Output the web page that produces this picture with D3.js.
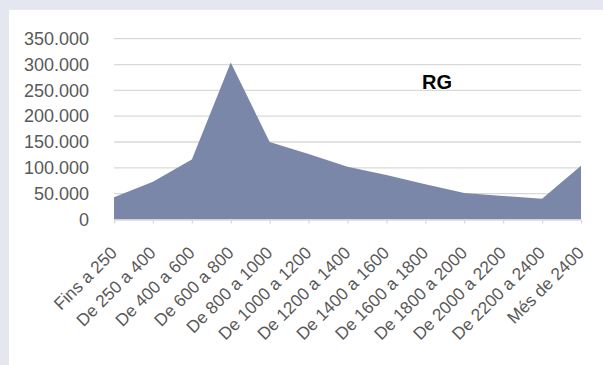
<!DOCTYPE html>
<html><head><meta charset="utf-8">
<script src="https://cdn.jsdelivr.net/npm/d3@7"></script>
<style>html,body{margin:0;padding:0;background:#e4e7ef;}svg{display:block;}</style>
</head><body>
<svg id="c" width="603" height="365"></svg>
<script>
const categories = ["Fins a 250","De 250 a 400","De 400 a 600","De 600 a 800","De 800 a 1000","De 1000 a 1200","De 1200 a 1400","De 1400 a 1600","De 1600 a 1800","De 1800 a 2000","De 2000 a 2200","De 2200 a 2400","Més de 2400"];
const values = [43000, 73000, 116000, 304000, 150000, 127000, 102000, 86000, 68000, 51500, 45500, 40000, 104000];
const yTicks = [0, 50000, 100000, 150000, 200000, 250000, 300000, 350000];
const title = "RG";

const svg = d3.select("#c");
svg.append("rect").attr("x",9).attr("y",10).attr("width",594).attr("height",355).attr("fill","#ffffff");

const x = d3.scalePoint().domain(categories).range([114, 581]).padding(0);
const y = d3.scaleLinear().domain([0, 350000]).range([219.5, 38.7]);
const fmt = v => d3.format(",")(v).replace(/,/g, ".");

// grid
svg.append("g").selectAll("line").data(yTicks.filter(d=>d>0)).join("line")
  .attr("x1",114).attr("x2",581).attr("y1",d=>y(d)).attr("y2",d=>y(d))
  .attr("stroke","#d9d9d9").attr("stroke-width",1.3);

// area
const area = d3.area().x((d,i)=>x(categories[i])).y0(y(0)).y1(d=>y(d));
svg.append("path").datum(values).attr("d",area).attr("fill","#7a87a9");

// y axis labels
svg.append("g").selectAll("text").data(yTicks).join("text")
  .attr("x",89).attr("y",d=>y(d)).attr("dy","0.35em")
  .attr("text-anchor","end").attr("font-family","Liberation Sans, Arial, sans-serif")
  .attr("font-size",18).attr("fill","#595959").text(d=>fmt(d));

// x axis
const xAxis = d3.axisBottom(x).tickSize(4).tickFormat("");
const gx = svg.append("g").attr("transform",`translate(0,${y(0)})`).call(xAxis);
gx.select(".domain").attr("stroke","#d9d9d9").attr("stroke-width",1.3).attr("d","M114,0.5H581");
gx.selectAll(".tick line").attr("stroke","#d9d9d9").attr("stroke-width",1.3);

svg.append("g").selectAll("text").data(categories).join("text")
  .attr("transform",d=>`translate(${x(d)+4},${254}) rotate(-45)`)
  .attr("text-anchor","end").attr("font-family","Liberation Sans, Arial, sans-serif")
  .attr("font-size",17.3).attr("fill","#595959").text(d=>d);

// title
svg.append("text").attr("x",437).attr("y",89).attr("text-anchor","middle")
  .attr("font-family","Liberation Sans, Arial, sans-serif").attr("font-weight","bold")
  .attr("font-size",20).attr("fill","#000").text(title);
</script>
</body></html>
